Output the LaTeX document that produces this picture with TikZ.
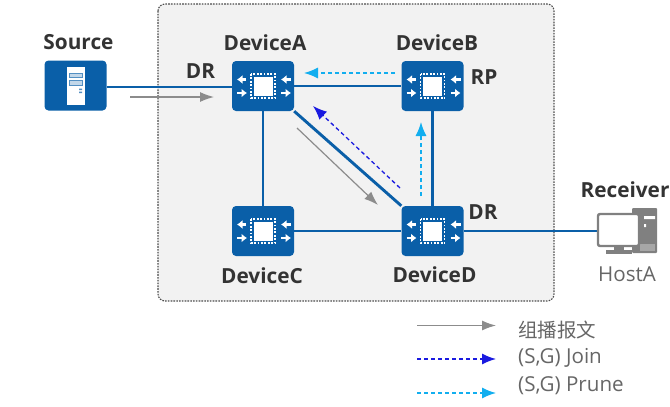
\documentclass[tikz,border=0pt]{standalone}
\usepackage{fontspec}
\setmainfont{Open Sans}
\newfontfamily\cjk{Noto Sans CJK SC}
\usetikzlibrary{arrows.meta}
\definecolor{hwblue}{HTML}{0A5FA8}
\definecolor{txtdark}{HTML}{333333}
\definecolor{arrgray}{HTML}{8C8C8C}
\definecolor{joinblue}{HTML}{1A1AE0}
\definecolor{prunecyan}{HTML}{12AEEF}
\tikzset{
  x=1pt,y=-1pt,
  panel/.style={draw=black!70,dash pattern=on 1.6pt off 1.2pt,line width=1.1pt,rounded corners=7pt,fill=black!5},
  devbox/.style={fill=hwblue,rounded corners=4pt,minimum width=62pt,minimum height=50pt,inner sep=0pt,draw=none},
  link/.style={draw=hwblue,line width=2.9pt},
  flow/.style={color=arrgray,line width=1.2pt,-{Latex[length=14pt,width=10pt]}},
  joinflow/.style={color=joinblue,line width=1.3pt,dash pattern=on 4pt off 3pt,-{Latex[length=14pt,width=11pt]}},
  pruneflow/.style={color=prunecyan,line width=1.3pt,dash pattern=on 4pt off 3pt,-{Latex[length=14pt,width=11pt]}},
  bold label/.style={font=\fontsize{20.8}{24}\selectfont\bfseries,text=txtdark,inner sep=0pt},
  plain label/.style={font=\fontsize{20.6}{24}\selectfont,text=black!60,inner sep=0pt},
  chip/.pic={
    \fill[white] (-9.5,-9.5) rectangle (9.5,9.5);
    \draw[white,line width=1.2pt,dash pattern=on 1.8pt off 1.6pt] (-12,-12) rectangle (12,12);
    \foreach \xa/\xb in {-17/-26,28/18}{
      \draw[white,line width=2.4pt,-{Latex[length=5.5pt,width=9pt]}] (\xa,-6.5) -- (\xb,-6.5);
    }
    \foreach \xa/\xb in {-26/-16,18/28}{
      \draw[white,line width=2.4pt,-{Latex[length=5.5pt,width=9pt]}] (\xa,7) -- (\xb,7);
    }
  },
}
\begin{document}
\begin{tikzpicture}
\useasboundingbox (0,0) rectangle (670,407);
\path[panel] (158,4) rectangle (554,301);

\node[devbox] (source) at (75.5,85.5) {};
\node[devbox] (A) at (263,86) {};
\node[devbox] (B) at (432.5,86) {};
\node[devbox] (C) at (263,231) {};
\node[devbox] (D) at (432.5,231) {};
\coordinate (hostport) at (597,231);

\draw[link] (source.east |- 0,87) -- (A.west |- 0,87);
\draw[link] (A) -- (B);
\draw[link] (A) -- (C);
\draw[link] (C) -- (D);
\draw[link] (B) -- (D);
\draw[link] (A.south east) -- (D.north west);
\draw[link] (D.east) -- (hostport);

% source icon
\fill[white] (66.5,67) rectangle (84.5,104.5);
\draw[hwblue!70,fill=hwblue!25,line width=.8pt] (69,73) rectangle (82,77.5);
\draw[hwblue!70,fill=hwblue!25,line width=.8pt] (69,80.5) rectangle (82,85);
\fill[hwblue!70] (79,88.5) rectangle (82,90) (79,91.5) rectangle (82,93);

\pic at (A) {chip};
\pic at (B) {chip};
\pic at (C) {chip};
\pic at (D) {chip};

% host icon
\fill[black!50,rounded corners=1pt] (632,208) rectangle (657,253);
\fill[white] (644,216) rectangle (655,219) (644,224) rectangle (646,227);
\fill[black!35] (640,244) rectangle (655,251);
\fill[black!50] (606,250) rectangle (632,254);
\fill[black!50] (614,246) rectangle (624,250);
\draw[black!50,fill=white,line width=2.4pt,rounded corners=2pt] (598,214) rectangle (639,246);

\draw[flow] (130,97) -- (214,97);
\draw[flow] (297,128) -- (378,205);
\draw[joinflow] (400,188) -- (313,106);
\draw[pruneflow] (395,73) -- (304,73);
\draw[pruneflow] (421,196) -- (421,122);

\node[bold label] (lsource) at (78.5,42.5) {Source};
\node[bold label] (la) at (265,42.5) {DeviceA};
\node[bold label] (lb) at (437,42.5) {DeviceB};
\node[bold label] (lc) at (262,275.5) {DeviceC};
\node[bold label] (ld) at (434.5,274.5) {DeviceD};
\node[bold label] (ldr1) at (200.5,71) {DR};
\node[bold label] (lrp) at (484,77) {RP};
\node[bold label] (ldr2) at (483,212) {DR};
\node[bold label] (lrecv) at (625,189.5) {Receiver};
\node[plain label] (lhost) at (627,274.5) {HostA};

\coordinate (k1s) at (417,325.5); \coordinate (k1e) at (496,325.5);
\coordinate (k2s) at (417,359); \coordinate (k2e) at (496,359);
\coordinate (k3s) at (417,393); \coordinate (k3e) at (496,393);
\draw[flow] (k1s) -- (k1e);
\draw[joinflow] (k2s) -- (k2e);
\draw[pruneflow] (k3s) -- (k3e);
\node[plain label,anchor=west,font=\fontsize{19.5}{22}\selectfont\cjk] (t1) at (518,330) {组播报文};
\node[plain label,anchor=west] (t2) at (518,358) {(S,G) Join};
\node[plain label,anchor=west] (t3) at (518,386) {(S,G) Prune};
\end{tikzpicture}
\end{document}
